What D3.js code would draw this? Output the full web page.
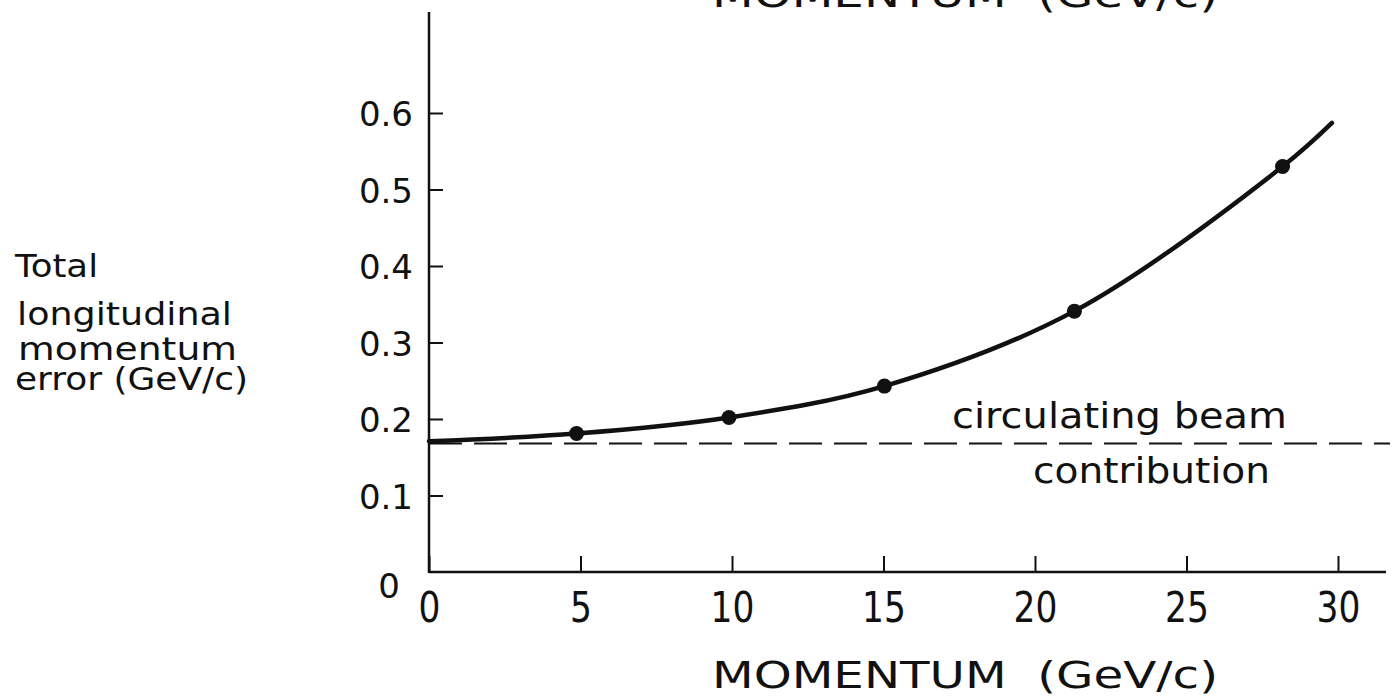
<!DOCTYPE html>
<html>
<head>
<meta charset="utf-8">
<script src="https://cdn.jsdelivr.net/npm/d3@7"></script>
<style>
body { margin: 0; background: #fff; }
text { font-family: "DejaVu Sans", sans-serif; fill: #111; }
</style>
</head>
<body>
<div id="chart"></div>
<script>
// measured points (momentum in GeV/c, error in GeV/c)
var momentum = [4.87, 9.9, 15.03, 21.3, 28.17];
var error = [0.181, 0.202, 0.243, 0.341, 0.530];

// the hand drawn curve: its two ends plus the points it runs through
var curveMomentum = [0, 4.87, 9.9, 15.03, 21.3, 28.17, 29.8];
var curveError = [0.171, 0.181, 0.202, 0.243, 0.341, 0.530, 0.587];

// circulating beam contribution (dashed)
var beamError = 0.168;

var xTicks = [0, 5, 10, 15, 20, 25, 30];
var yTicks = [0.1, 0.2, 0.3, 0.4, 0.5, 0.6];
var yTickLabels = ['0.1', '0.2', '0.3', '0.4', '0.5', '0.6'];
var yTitle = ['Total', 'longitudinal', 'momentum', 'error (GeV/c)'];

var width = 1398,
    height = 697;

var svg = d3.select('#chart').append('svg')
    .attr('width', width)
    .attr('height', height);

//scales
var x = d3.scaleLinear().domain([0, 30]).range([429, 1338]);
var y = d3.scaleLinear().domain([0, 0.6]).range([572, 113]);

var ink = '#111';

//axis lines
svg.append('line')
    .attr('x1', x(0)).attr('x2', 1386)
    .attr('y1', y(0)).attr('y2', y(0))
    .attr('stroke', ink).attr('stroke-width', 2.5);

svg.append('line')
    .attr('x1', x(0)).attr('x2', x(0))
    .attr('y1', y(0) + 1).attr('y2', 12)
    .attr('stroke', ink).attr('stroke-width', 2.5);

//x axis
var xAxis = svg.append('g')
    .attr('transform', 'translate(0,' + y(0) + ')')
    .call(d3.axisBottom(x).tickValues(xTicks).tickSize(-16).tickSizeOuter(0).tickFormat(d3.format('d')));

xAxis.select('.domain').remove();
xAxis.selectAll('line').attr('stroke', ink).attr('stroke-width', 2);
xAxis.selectAll('text')
    .attr('y', 50)
    .attr('dy', null)
    .attr('transform', 'scale(0.82,1)')
    .style('font-size', '42px')
    .style('font-family', '"DejaVu Sans", sans-serif')
    .attr('fill', ink);

//y axis
var yAxis = svg.append('g')
    .attr('transform', 'translate(' + x(0) + ',0)')
    .call(d3.axisLeft(y).tickValues(yTicks).tickSize(-14).tickSizeOuter(0).tickPadding(16)
        .tickFormat(function (d, i) { return yTickLabels[i]; }));

yAxis.select('.domain').remove();
yAxis.selectAll('line').attr('stroke', ink).attr('stroke-width', 2);
yAxis.selectAll('text')
    .attr('dy', '0.37em')
    .style('font-size', '34px')
    .style('font-family', '"DejaVu Sans", sans-serif')
    .attr('fill', ink);

// the lone "0" sits below the corner
svg.append('text')
    .attr('x', 400)
    .attr('y', 598)
    .attr('text-anchor', 'end')
    .style('font-size', '34px')
    .text('0');

//dashed beam line
svg.append('line')
    .attr('x1', x(0)).attr('x2', 1390)
    .attr('y1', y(beamError)).attr('y2', y(beamError))
    .attr('stroke', ink)
    .attr('stroke-width', 2)
    .attr('stroke-dasharray', '33,12');

//curve
var line = d3.line()
    .x(function (d) { return x(d[0]); })
    .y(function (d) { return y(d[1]); })
    .curve(d3.curveCatmullRom.alpha(0.5));

svg.append('path')
    .datum(d3.zip(curveMomentum, curveError))
    .attr('d', line)
    .attr('fill', 'none')
    .attr('stroke', ink)
    .attr('stroke-width', 4.5)
    .attr('stroke-linecap', 'round');

//points
svg.selectAll('.pt')
    .data(d3.zip(momentum, error))
  .enter().append('circle')
    .attr('class', 'pt')
    .attr('cx', function (d) { return x(d[0]); })
    .attr('cy', function (d) { return y(d[1]); })
    .attr('r', 7.5)
    .attr('fill', ink);

//labels
svg.append('text')
    .attr('x', 952).attr('y', 428)
    .attr('textLength', 335).attr('lengthAdjust', 'spacingAndGlyphs')
    .style('font-size', '36px')
    .text('circulating beam');

svg.append('text')
    .attr('x', 1033).attr('y', 483)
    .attr('textLength', 237).attr('lengthAdjust', 'spacingAndGlyphs')
    .style('font-size', '36px')
    .text('contribution');

//axis titles
[688, 7].forEach(function (base) {
    svg.append('text')
        .attr('x', 712).attr('y', base)
        .attr('textLength', 506).attr('lengthAdjust', 'spacingAndGlyphs')
        .style('font-size', '38px')
        .style('white-space', 'pre')
        .text('MOMENTUM  (GeV/c)');
});

var titleBase = [277, 325, 360, 390],
    titleX = [15, 17, 18, 15],
    titleLen = [83, 215, 219, 233];

svg.selectAll('.ytitle')
    .data(yTitle)
  .enter().append('text')
    .attr('class', 'ytitle')
    .attr('x', function (d, i) { return titleX[i]; })
    .attr('y', function (d, i) { return titleBase[i]; })
    .attr('textLength', function (d, i) { return titleLen[i]; })
    .attr('lengthAdjust', 'spacingAndGlyphs')
    .style('font-size', '32px')
    .text(function (d) { return d; });
</script>
</body>
</html>
